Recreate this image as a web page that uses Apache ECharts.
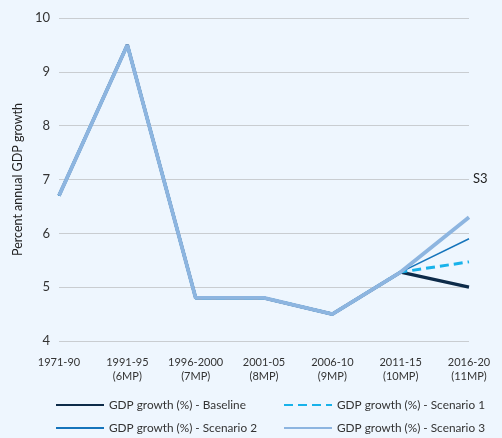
<!DOCTYPE html>
<html>
<head>
  <meta charset="UTF-8">
  <title>GDP growth scenarios</title>
  <script src="https://cdn.jsdelivr.net/npm/echarts@6/dist/echarts.min.js"></script>
</head>
<style type="text/css">
  html,body {padding: 0; margin: 0; background: #eef6fe;}
  #chart {width: 502px; height: 438px;}
</style>
<body>
  <div id="chart"></div>
  <script type="text/javascript">
    var categories = ['1971-90', '1991-95\n(6MP)', '1996-2000\n(7MP)', '2001-05\n(8MP)', '2006-10\n(9MP)', '2011-15\n(10MP)', '2016-20\n(11MP)'];
    var baseline  = [6.7, 9.5, 4.8, 4.8, 4.5, 5.28, 5.0];
    var scenario1 = [6.7, 9.5, 4.8, 4.8, 4.5, 5.28, 5.47];
    var scenario2 = [6.7, 9.5, 4.8, 4.8, 4.5, 5.28, 5.9];
    var scenario3 = [6.7, 9.5, 4.8, 4.8, 4.5, 5.28, 6.3];
    var names = ['GDP growth (%) - Baseline', 'GDP growth (%) - Scenario 1', 'GDP growth (%) - Scenario 2', 'GDP growth (%) - Scenario 3'];

    var font = 'Lato, "Noto Sans", sans-serif';
    var legendText = {fontSize: 11.8, color: '#333', fontFamily: font};

    // one legend per item so the two columns line up
    function legendAt(name, left, top) {
      return {show: true, data: [name], left: left, top: top, itemWidth: 48, itemHeight: 12,
              itemGap: 6, padding: 0, textStyle: legendText, itemStyle: {opacity: 0}};
    }

    var option = {
      backgroundColor: '#eef6fe',
      animation: false,
      grid: {left: 59, right: 33, top: 18, bottom: 97},
      legend: [
        legendAt(names[0], 55, 399),
        legendAt(names[1], 283, 399),
        legendAt(names[2], 55, 422),
        legendAt(names[3], 283, 422)
      ],
      xAxis: {
        type: 'category',
        boundaryGap: false,
        data: categories,
        axisLine: {show: false},
        axisTick: {show: false},
        axisLabel: {fontSize: 11, color: '#333', fontFamily: font, margin: 14, lineHeight: 14, interval: 0}
      },
      yAxis: {
        type: 'value',
        min: 4, max: 10, interval: 1,
        name: 'Percent annual GDP growth',
        nameLocation: 'middle',
        nameGap: 34,
        nameTextStyle: {fontSize: 12.5, color: '#222', fontFamily: font},
        axisLabel: {fontSize: 13, color: '#333', fontFamily: font, margin: 9},
        splitLine: {lineStyle: {color: '#c9cdd1', width: 1}}
      },
      graphic: [{
        type: 'text', left: 473, top: 172,
        style: {text: 'S3', fontSize: 13, fill: '#222', fontFamily: font}
      }],
      series: [
        {name: names[0], type: 'line', data: baseline, symbol: 'none', color: '#0d2b49',
         lineStyle: {width: 3.2, color: '#0d2b49'}},
        {name: names[1], type: 'line', data: scenario1, symbol: 'none', color: '#18b2ea',
         lineStyle: {width: 3, type: [9, 5], color: '#18b2ea'}},
        {name: names[2], type: 'line', data: scenario2, symbol: 'none', color: '#1574bb',
         lineStyle: {width: 1.5, color: '#1574bb'}},
        {name: names[3], type: 'line', data: scenario3, symbol: 'none', color: '#8db5e0',
         lineStyle: {width: 3.8, color: '#8db5e0'}}
      ]
    };

    var myChart = echarts.init(document.getElementById('chart'));
    myChart.setOption(option);
  </script>
</body>
</html>
